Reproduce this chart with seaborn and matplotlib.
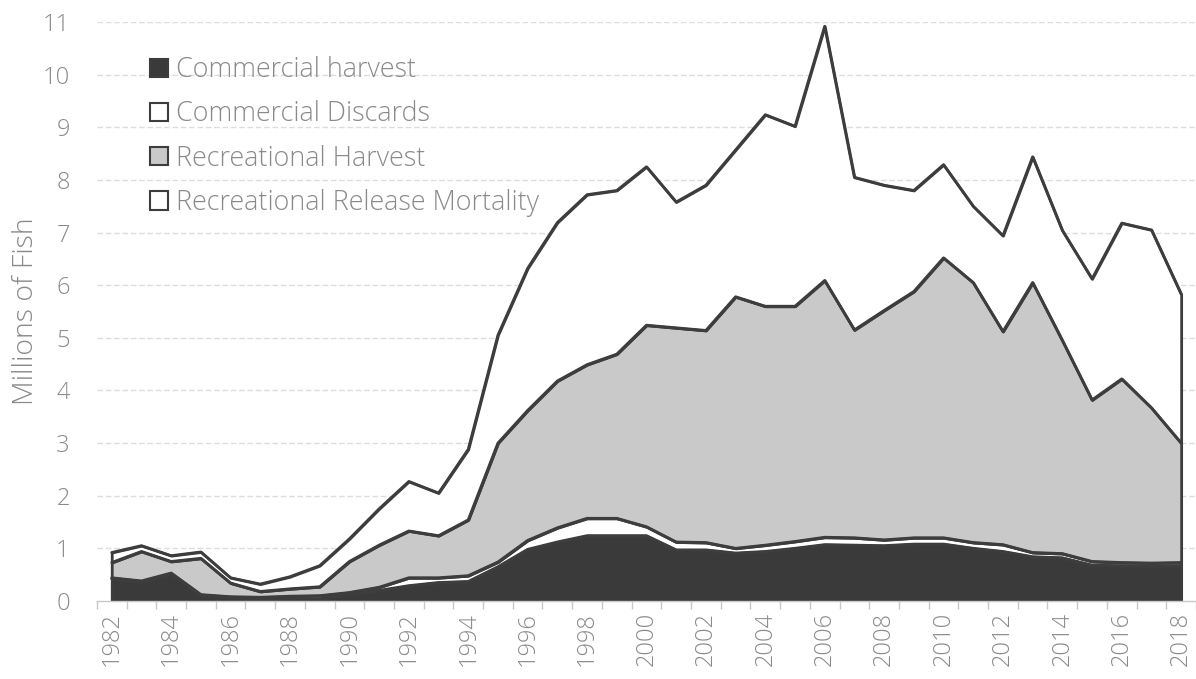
import numpy as np
import pandas as pd
import matplotlib
matplotlib.use("Agg")
import matplotlib.pyplot as plt
from matplotlib.patches import Patch
import seaborn as sns

years = list(range(1982, 2019))
commercial_harvest = [0.42, 0.36, 0.51, 0.10, 0.06, 0.04, 0.03, 0.04, 0.12, 0.20,
                      0.29, 0.35, 0.37, 0.65, 0.98, 1.12, 1.24, 1.24, 1.24, 0.97,
                      0.97, 0.91, 0.94, 1.00, 1.07, 1.06, 1.05, 1.08, 1.08, 1.00,
                      0.94, 0.84, 0.82, 0.68, 0.67, 0.66, 0.67]
commercial_discards = [0.02, 0.02, 0.02, 0.02, 0.02, 0.03, 0.06, 0.06, 0.04, 0.06,
                       0.15, 0.09, 0.11, 0.09, 0.17, 0.27, 0.33, 0.33, 0.17, 0.15,
                       0.14, 0.09, 0.12, 0.13, 0.14, 0.14, 0.11, 0.12, 0.12, 0.11,
                       0.13, 0.08, 0.08, 0.07, 0.06, 0.06, 0.06]
recreational_harvest = [0.29, 0.56, 0.22, 0.69, 0.26, 0.11, 0.14, 0.17, 0.59, 0.80,
                        0.89, 0.80, 1.06, 2.26, 2.47, 2.79, 2.92, 3.12, 3.83, 4.07,
                        4.03, 4.78, 4.54, 4.47, 4.88, 3.95, 4.36, 4.68, 5.32, 4.94,
                        4.05, 5.13, 4.05, 3.07, 3.49, 2.95, 2.27]
recreational_release_mortality = [0.19, 0.11, 0.11, 0.12, 0.10, 0.14, 0.23, 0.40, 0.43, 0.69,
                                  0.94, 0.81, 1.34, 2.05, 2.70, 3.01, 3.23, 3.11, 3.01, 2.39,
                                  2.76, 2.79, 3.64, 3.42, 4.83, 2.90, 2.38, 1.92, 1.77, 1.45,
                                  1.82, 2.39, 2.09, 2.30, 2.96, 3.38, 2.83]
series_names = ["Commercial harvest", "Commercial Discards",
                "Recreational Harvest", "Recreational Release Mortality"]
y_ticks = list(range(0, 12))
x_tick_years = list(range(1982, 2019, 2))

df = pd.DataFrame({
    "Year": years,
    series_names[0]: commercial_harvest,
    series_names[1]: commercial_discards,
    series_names[2]: recreational_harvest,
    series_names[3]: recreational_release_mortality,
})

sns.set_theme(style="white")
plt.rcParams["font.family"] = ["Open Sans", "DejaVu Sans"]

fill_colors = ["#3a3a3a", "#ffffff", "#c9c9c9", "#ffffff"]
edge = "#3d3d3d"
text_gray = "#8a8a8a"

fig = plt.figure(figsize=(11.96, 6.79), dpi=100)
ax = fig.add_axes([0.081, 0.115, 0.919, 0.8525])

# gridlines behind
for yv in y_ticks[1:]:
    ax.axhline(yv, color="#dcdcdc", lw=1.0, ls=(0, (4, 2)), zorder=0)

ax.stackplot(df["Year"], [df[n] for n in series_names], colors=fill_colors,
             edgecolor=edge, linewidth=2.0, zorder=2)

# outline tops with seaborn lines
cum = np.zeros(len(years))
for n in series_names:
    cum = cum + df[n].to_numpy()
    sns.lineplot(x=df["Year"], y=cum, ax=ax, color=edge, lw=2.0, zorder=3,
                 legend=False)

ax.set_xlim(1981.5, 2018.5)
ax.set_ylim(0, 11)
ax.set_yticks(y_ticks)
ax.set_yticklabels([str(v) for v in y_ticks], color=text_gray, fontsize=17, fontweight="light")
ax.set_xticks(x_tick_years)
ax.set_xticklabels([str(v) for v in x_tick_years], rotation=90, color=text_gray,
                   fontsize=17, fontweight="light")
ax.set_xticks(np.arange(1981.5, 2019, 1), minor=True)
ax.tick_params(axis="x", which="major", length=0, pad=8)
ax.tick_params(axis="x", which="minor", length=6, color="#c8c8c8", width=1, bottom=True)
ax.tick_params(axis="y", length=0, pad=19.5)
ax.set_ylabel("Millions of Fish", color=text_gray, fontsize=20.5, fontweight="light")
ax.yaxis.set_label_coords(-0.0515, 0.5)
ax.set_xlabel("")

for s in ["top", "right", "left"]:
    ax.spines[s].set_visible(False)
ax.spines["bottom"].set_color("#c8c8c8")
ax.spines["bottom"].set_linewidth(1)
ax.spines["bottom"].set_zorder(4)
ax.grid(False)

handles = [Patch(facecolor=c, edgecolor=edge, linewidth=1.5) for c in fill_colors]
leg = ax.legend(handles, series_names, loc="upper left", bbox_to_anchor=(0.048, 0.941),
                frameon=False, handlelength=0.68, handleheight=0.68, handletextpad=0.3,
                labelspacing=0.6, borderpad=0, borderaxespad=0, labelcolor=text_gray,
                prop={"weight": "light", "size": 19.4})

fig.savefig("out.png", dpi=100)
